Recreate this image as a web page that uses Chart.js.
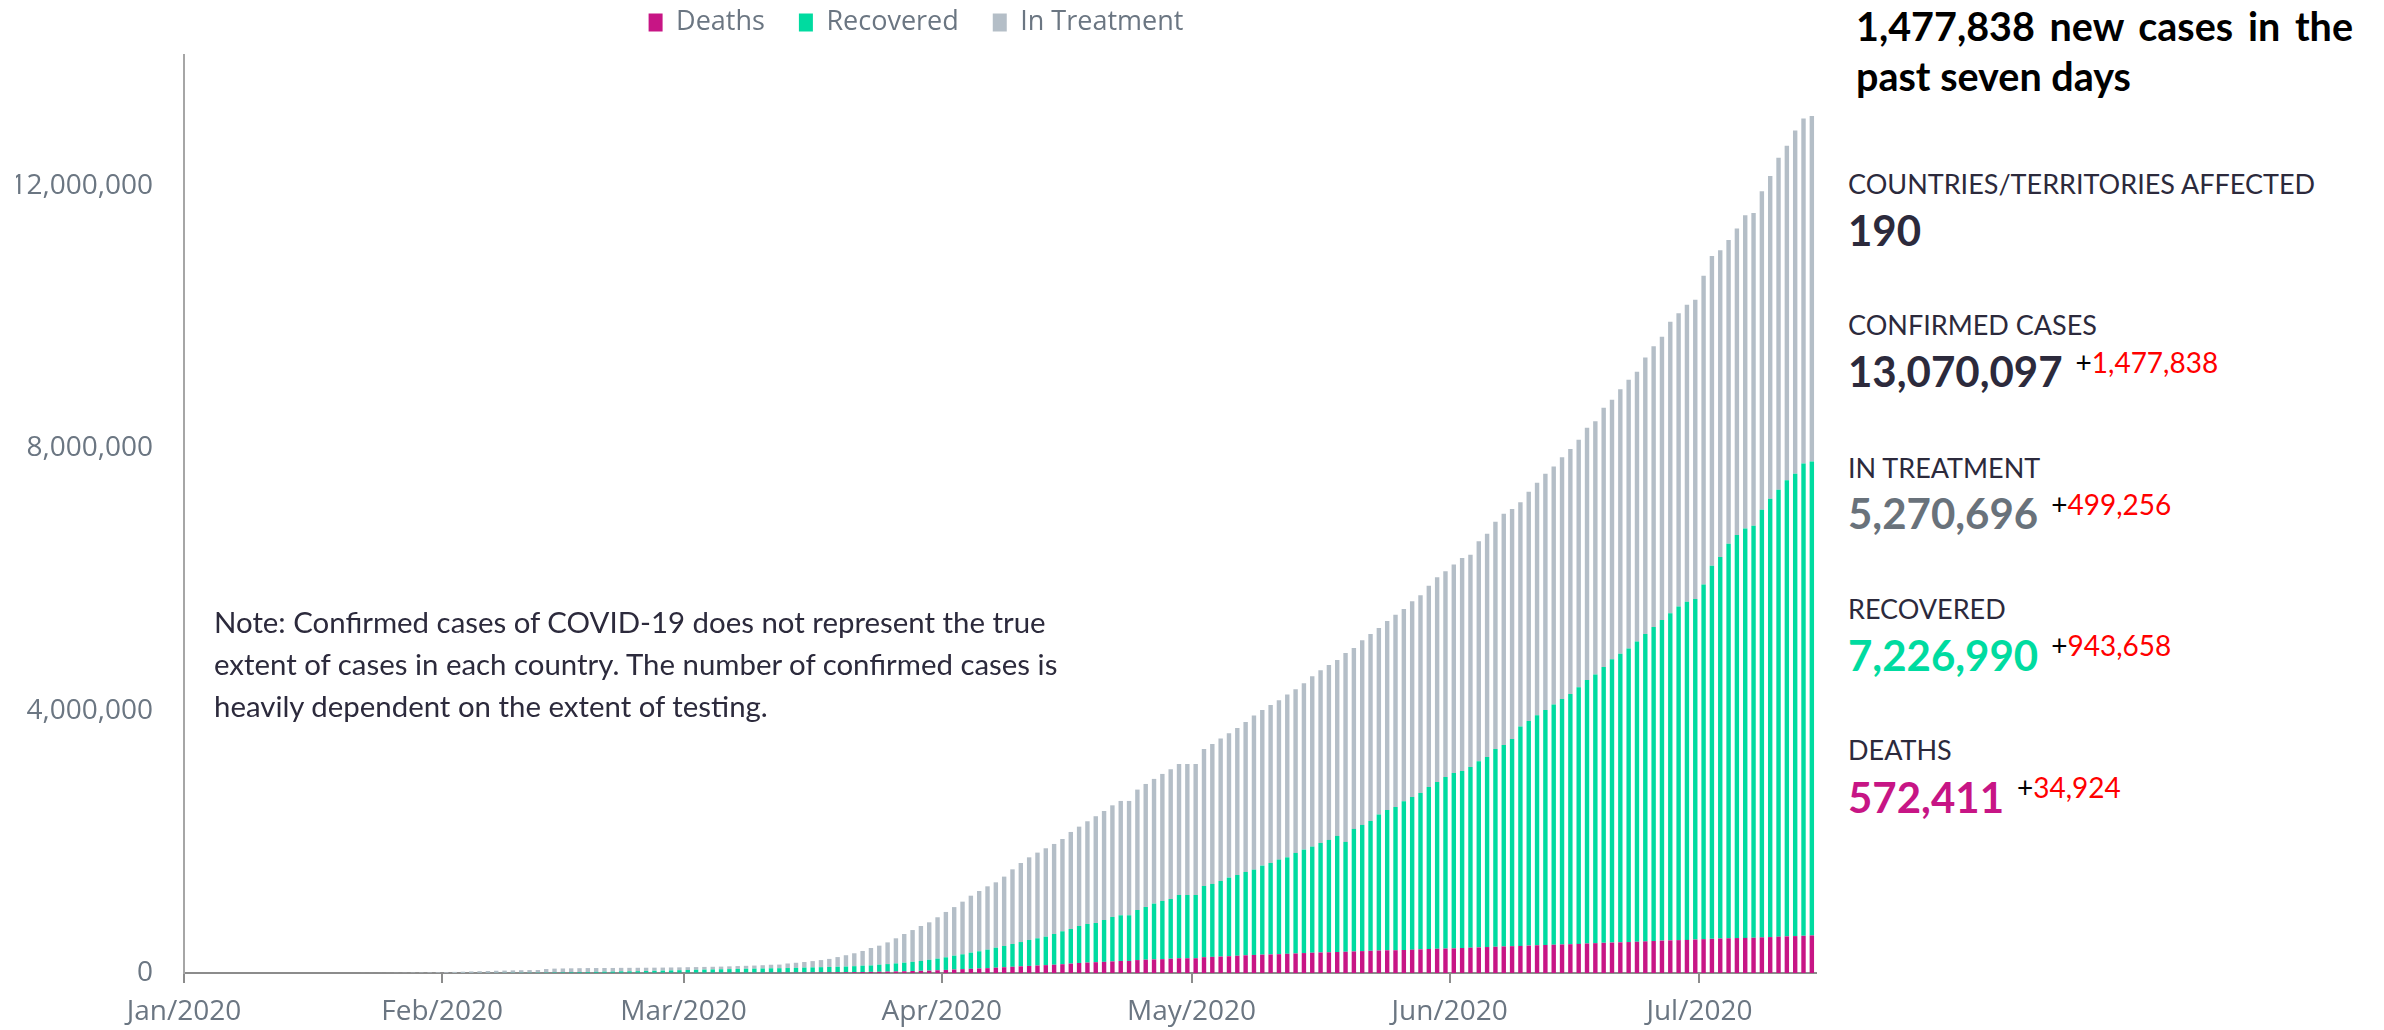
<!DOCTYPE html>
<html lang="en">
<head>
<meta charset="utf-8">
<title>COVID-19 global cases</title>
<script src="https://cdn.jsdelivr.net/npm/chart.js@4.4.1/dist/chart.umd.min.js"></script>
<style>
  html, body { margin: 0; padding: 0; background: #ffffff; }
  body { position: relative; width: 2384px; height: 1030px; overflow: hidden; font-family: Lato, 'Open Sans', sans-serif; }
  #chartBox { position: absolute; left: 0; top: 0; width: 1832px; height: 1030px; }
  .abs { position: absolute; white-space: nowrap; line-height: 1; }
  .headline { position: absolute; left: 1856px; top: 1px; width: 497px; font-weight: 700; font-size: 39.5px; line-height: 50px; color: #000; }
  .headline .l1 { text-align: justify; text-align-last: justify; white-space: nowrap; }
  .lbl { left: 1848px; font-size: 27px; color: #2c2a3c; }
  .big { left: 1848px; font-size: 42px; font-weight: 700; color: #2c2a3c; }
  .chg { position: relative; font-size: 28px; font-weight: 400; color: #ff0000; margin-left: 13px; }
  .chg .plus { color: #000; }
  .note { position: absolute; left: 214px; top: 601px; font-size: 29.4px; line-height: 42px; color: #2c2a3c; white-space: nowrap; }
</style>
</head>
<body>
<div id="chartBox"><canvas id="chart"></canvas></div>

<div class="note">Note: Confirmed cases of COVID-19 does not represent the true<br>extent of cases in each country. The number of confirmed cases is<br>heavily dependent on the extent of testing.</div>

<div class="headline"><div class="l1">1,477,838 new cases in the</div><div>past seven days</div></div>

<div class="abs lbl" style="top:170px">COUNTRIES/TERRITORIES AFFECTED</div>
<div class="abs big" style="top:209px">190</div>

<div class="abs lbl" style="top:310.5px">CONFIRMED CASES</div>
<div class="abs big" style="top:350.4px">13,070,097<span class="chg" style="top:-14px"><span class="plus">+</span>1,477,838</span></div>

<div class="abs lbl" style="top:453.5px">IN TREATMENT</div>
<div class="abs big" style="top:492px; color:#69727b">5,270,696<span class="chg" style="top:-14px"><span class="plus">+</span>499,256</span></div>

<div class="abs lbl" style="top:595.2px">RECOVERED</div>
<div class="abs big" style="top:634.4px; color:#00dba0">7,226,990<span class="chg" style="top:-15px"><span class="plus">+</span>943,658</span></div>

<div class="abs lbl" style="top:736.2px">DEATHS</div>
<div class="abs big" style="top:776px; color:#c71585">572,411<span class="chg" style="top:-15px"><span class="plus">+</span>34,924</span></div>

<script>
// Daily cumulative counts, one value per day starting at startDate.
const startDate = '2020-01-22';
const axisStart = '2020-01-01';
const axisEnd = '2020-07-15';
const monthStarts = ['2020-01-01', '2020-02-01', '2020-03-01', '2020-04-01', '2020-05-01', '2020-06-01', '2020-07-01'];
const monthLabels = ['Jan/2020', 'Feb/2020', 'Mar/2020', 'Apr/2020', 'May/2020', 'Jun/2020', 'Jul/2020'];
const yTickValues = [0, 4000000, 8000000, 12000000];
const seriesLabels = ['Deaths', 'Recovered', 'In Treatment'];

const confirmed = [
  // Jan 22 - Jan 31
  600, 700, 900, 1400, 2100, 2900, 5600, 6200, 8200, 9900,
  // Feb
  12000, 16800, 19900, 23900, 27600, 30800, 34400, 37100, 40200, 42800,
  44800, 45200, 60400, 66900, 69100, 71200, 73300, 75200, 75700, 76200,
  76800, 78600, 79000, 79500, 80400, 81400, 82700, 84100, 86000,
  // Mar
  88400, 90300, 92800, 95100, 97900, 101800, 105800, 109800, 113600, 118600,
  125900, 128300, 145200, 156100, 167400, 181500, 197100, 214900, 242700, 271000,
  301000, 336000, 381000, 417000, 467000, 529000, 595000, 655000, 717000, 773000, 850000,
  // Apr
  931000, 1005000, 1088000, 1179000, 1251000, 1322000, 1383000, 1470000, 1581000, 1678000,
  1764000, 1836000, 1902000, 1968000, 2044000, 2151000, 2232000, 2314000, 2391000, 2471000,
  2557000, 2624000, 2624000, 2797000, 2883000, 2960000, 3036000, 3106000, 3187000, 3187000,
  // May
  3187000, 3417000, 3493000, 3575000, 3656000, 3738000, 3829000, 3926000, 4012000, 4089000,
  4160000, 4246000, 4328000, 4419000, 4526000, 4617000, 4699000, 4775000, 4882000, 4958000,
  5075000, 5171000, 5263000, 5369000, 5462000, 5553000, 5670000, 5761000, 5904000, 6036000, 6127000,
  // Jun
  6229000, 6330000, 6377000, 6585000, 6697000, 6880000, 7002000, 7078000, 7180000, 7338000,
  7475000, 7612000, 7724000, 7866000, 7993000, 8131000, 8314000, 8415000, 8619000, 8741000,
  8904000, 9046000, 9168000, 9386000, 9559000, 9702000, 9931000, 10063000, 10191000, 10266000,
  // Jul 1 - Jul 14
  10633000, 10933000, 11024000, 11177000, 11355000, 11558000, 11592259, 11924000, 12153000, 12433000,
  12616000, 12850000, 13033000, 13070097
];

const recovered = [
  30, 30, 40, 40, 50, 60, 100, 130, 140, 200,
  300, 500, 600, 900, 1100, 1500, 2000, 2600, 3200, 3900,
  4700, 5200, 6300, 8100, 9400, 10900, 12600, 14400, 16100, 18200,
  18900, 22900, 23400, 25200, 27900, 30400, 33300, 36700, 39800,
  42700, 45600, 48200, 51200, 53800, 55900, 58400, 60700, 62500, 64400,
  67000, 68300, 70300, 72600, 76000, 78100, 80800, 83300, 84900, 87000,
  91000, 97000, 98000, 108000, 114000, 122000, 130000, 139000, 150000, 164000, 177000,
  192000, 211000, 226000, 246000, 262000, 282000, 305000, 324000, 347000, 370000,
  396000, 415000, 434000, 469000, 502000, 529000, 564000, 589000, 598000, 638000,
  678000, 696000, 696000, 764000, 804000, 851000, 888000, 911000, 965000, 965000,
  965000, 1086000, 1112000, 1152000, 1199000, 1232000, 1271000, 1301000, 1358000, 1395000,
  1442000, 1471000, 1533000, 1578000, 1618000, 1670000, 1713000, 1770000, 1675000, 1868000,
  1924000, 1980000, 2073000, 2140000, 2185000, 2268000, 2329000, 2384000, 2471000, 2543000, 2617000,
  2675000, 2700000, 2757000, 2838000, 2899000, 3017000, 3073000, 3161000, 3345000, 3426000,
  3508000, 3585000, 3663000, 3745000, 3817000, 3914000, 4020000, 4096000, 4208000, 4321000,
  4399000, 4476000, 4578000, 4689000, 4790000, 4891000, 4989000, 5087000, 5155000, 5195000,
  5408000, 5688000, 5820000, 6015000, 6148000, 6244000, 6283332, 6520000, 6683000, 6814000,
  6957000, 7049000, 7203000, 7226990
];

const deaths = [
  20, 20, 30, 40, 60, 80, 130, 130, 170, 210,
  260, 360, 430, 490, 560, 630, 720, 810, 910, 1010,
  1110, 1120, 1370, 1520, 1670, 1770, 1870, 2010, 2120, 2250,
  2250, 2460, 2470, 2630, 2710, 2770, 2810, 2870, 2940,
  3000, 3090, 3160, 3250, 3350, 3460, 3560, 3800, 4000, 4260,
  4620, 4720, 5400, 5820, 6440, 7130, 7910, 8730, 9870, 11000,
  13000, 15000, 17000, 19000, 22000, 24000, 27000, 31000, 34000, 37000, 42000,
  47000, 53000, 59000, 64000, 69000, 74000, 81000, 88000, 95000, 102000,
  108000, 114000, 120000, 126000, 134000, 143000, 153000, 159000, 165000, 170000,
  177000, 184000, 184000, 197000, 203000, 207000, 211000, 218000, 225000, 225000,
  225000, 241000, 246000, 251000, 256000, 263000, 270000, 275000, 280000, 283000,
  287000, 293000, 298000, 304000, 309000, 313000, 316000, 320000, 324000, 329000,
  334000, 339000, 343000, 346000, 347000, 351000, 356000, 361000, 366000, 370000, 373000,
  376000, 381000, 386000, 391000, 396000, 400000, 405000, 409000, 413000, 418000,
  423000, 427000, 431000, 435000, 439000, 444000, 450000, 455000, 460000, 464000,
  468000, 472000, 477000, 482000, 488000, 494000, 498000, 501000, 505000, 510000,
  516000, 521000, 526000, 530000, 533000, 535000, 537487, 543000, 548000, 554000,
  559000, 563000, 567000, 572411
];

// Active cases are whatever is neither recovered nor fatal.
const inTreatment = confirmed.map((c, i) => c - recovered[i] - deaths[i]);

const DAY_MS = 86400000;
const dayOf = (iso) => (Date.parse(iso + 'T00:00:00Z') - Date.parse(axisStart + 'T00:00:00Z')) / DAY_MS;
const firstDay = dayOf(startDate);
// each bar fills its own day slot on the x axis
const toPoints = (arr) => arr.map((v, i) => ({ x: firstDay + i + 0.5, y: v }));

const axisGrey = '#8c8c8c';
const tickText = '#6b7682';
const tickFont = { family: "'Open Sans', sans-serif", size: 28 };

// keeps the legend row high while reserving room above the plot
const legendRoom = {
  id: 'legendRoom',
  beforeInit(chart) {
    const fit = chart.legend.fit;
    chart.legend.fit = function () {
      fit.call(this);
      this.height = 80;
    };
  }
};

new Chart(document.getElementById('chart'), {
  type: 'bar',
  data: {
    datasets: [
      { label: seriesLabels[0], data: toPoints(deaths), backgroundColor: '#c71585' },
      { label: seriesLabels[1], data: toPoints(recovered), backgroundColor: '#00dba0' },
      { label: seriesLabels[2], data: toPoints(inTreatment), backgroundColor: '#b4bec7' }
    ]
  },
  options: {
    responsive: true,
    maintainAspectRatio: false,
    animation: false,
    layout: { padding: { top: -25, left: 16, right: 16, bottom: 0 } },
    datasets: { bar: { barPercentage: 0.53, categoryPercentage: 1 } },
    plugins: {
      legend: {
        position: 'top',
        align: 'center',
        labels: {
          boxWidth: 14,
          boxHeight: 18,
          padding: 34,
          color: tickText,
          font: { family: "'Open Sans', sans-serif", size: 27 }
        }
      },
      tooltip: { enabled: false }
    },
    scales: {
      x: {
        type: 'linear',
        stacked: true,
        offset: false,
        min: 0,
        max: dayOf(axisEnd),
        afterBuildTicks(scale) {
          scale.ticks = monthStarts.map((d) => ({ value: dayOf(d) }));
        },
        afterFit(scale) { scale.height = 57; },
        ticks: {
          autoSkip: false,
          maxRotation: 0,
          minRotation: 0,
          padding: 12,
          color: tickText,
          font: tickFont,
          callback: (value, index) => monthLabels[index]
        },
        grid: {
          display: true,
          drawOnChartArea: false,
          drawTicks: true,
          tickLength: 10,
          tickWidth: 2,
          color: axisGrey,
          lineWidth: 2,
          offset: false
        },
        border: { display: true, color: axisGrey, width: 2 }
      },
      y: {
        stacked: true,
        min: 0,
        max: 14000000,
        afterBuildTicks(scale) {
          scale.ticks = yTickValues.map((v) => ({ value: v }));
        },
        afterFit(scale) { scale.width = 168; },
        ticks: {
          padding: 31,
          color: tickText,
          font: tickFont,
          callback: (v) => v.toLocaleString('en-US')
        },
        grid: { display: false, drawTicks: false },
        border: { display: true, color: '#a6a6a6', width: 2 }
      }
    }
  },
  plugins: [legendRoom]
});
</script>
</body>
</html>
